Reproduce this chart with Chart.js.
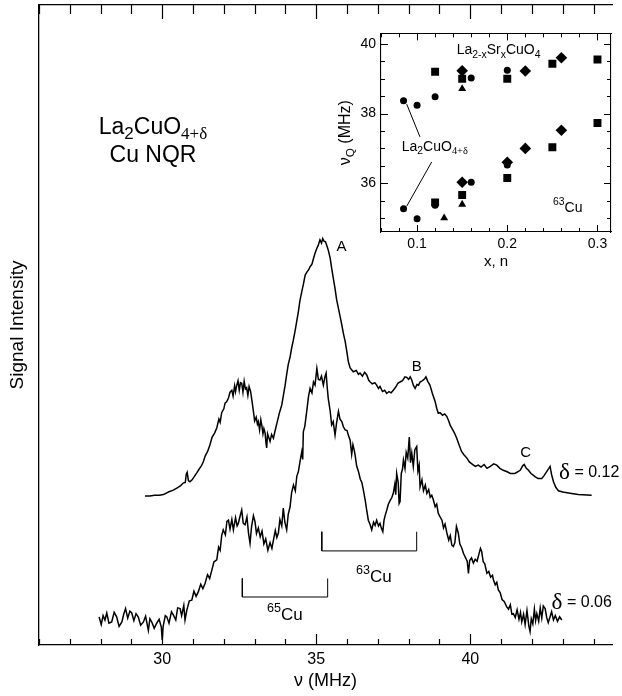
<!DOCTYPE html>
<html><head><meta charset="utf-8">
<script src="https://cdn.jsdelivr.net/npm/chart.js@4/dist/chart.umd.min.js"></script>
<style>
html,body{margin:0;padding:0;background:#fff;}
#wrap{position:relative;width:622px;height:696px;background:#fff;}
#main{position:absolute;left:0;top:0;}
#inset{position:absolute;left:330px;top:20px;}
</style></head><body>
<div id="wrap"><canvas id="main" width="622" height="696"></canvas><canvas id="inset" width="290" height="260"></canvas></div>
<script>
const SANS = '"Liberation Sans", Arial, Helvetica, sans-serif';
const SERIF = '"Liberation Serif", "DejaVu Serif", serif';

// ---------- main spectra (frequency in MHz, signal in arbitrary units) ----------
const freq012 = [29.44,29.6,29.75,29.9,30.04,30.2,30.36,30.5,30.6,30.68,30.75,30.78,30.81,30.85,30.9,30.97,31.05,31.12,31.2,31.27,31.33,31.4,31.47,31.55,31.62,31.7,31.77,31.84,31.88,31.93,32.0,32.04,32.09,32.15,32.2,32.26,32.3,32.35,32.38,32.42,32.46,32.5,32.54,32.58,32.62,32.66,32.7,32.74,32.78,32.82,32.87,32.92,32.96,33.0,33.05,33.09,33.12,33.16,33.2,33.23,33.27,33.3,33.34,33.37,33.39,33.42,33.46,33.5,33.55,33.61,33.66,33.72,33.8,33.88,33.94,33.99,34.04,34.09,34.15,34.2,34.25,34.31,34.36,34.42,34.47,34.53,34.58,34.64,34.7,34.75,34.8,34.86,34.91,34.96,35.02,35.06,35.12,35.17,35.21,35.25,35.3,35.35,35.39,35.45,35.5,35.55,35.61,35.66,35.72,35.78,35.83,35.88,35.94,36.0,36.04,36.1,36.2,36.3,36.37,36.42,36.5,36.57,36.64,36.7,36.75,36.82,36.9,36.96,37.02,37.07,37.15,37.22,37.29,37.36,37.43,37.5,37.58,37.65,37.72,37.8,37.88,37.94,38.0,38.05,38.1,38.15,38.21,38.27,38.32,38.37,38.45,38.52,38.56,38.62,38.69,38.77,38.86,38.91,38.96,39.02,39.1,39.17,39.24,39.3,39.35,39.4,39.48,39.56,39.64,39.72,39.8,39.89,39.97,40.05,40.16,40.26,40.35,40.45,40.54,40.65,40.76,40.86,40.96,41.07,41.18,41.3,41.45,41.55,41.62,41.7,41.75,41.82,41.89,41.97,42.05,42.1,42.2,42.32,42.4,42.48,42.55,42.59,42.64,42.7,42.78,42.86,43.0,43.24,43.5,43.94];
const sig012 = [23.3,23.3,23.4,23.4,23.5,23.9,24.2,24.6,24.9,25.3,25.4,26.7,27.0,25.7,25.5,25.8,26.4,26.9,27.5,28.0,28.6,29.6,30.2,31.3,32.5,33.1,33.9,35.3,34.8,36.3,36.9,37.8,38.0,38.6,39.5,39.8,38.9,40.5,39.6,40.6,41.3,39.8,41.0,40.9,39.5,41.2,40.0,40.2,39.0,40.4,39.6,37.9,36.5,35.0,35.6,34.5,34.9,33.6,35.2,34.4,33.0,33.8,33.1,31.5,30.8,33.0,32.4,31.8,32.9,32.3,33.4,34.6,36.2,37.5,39.2,40.6,42.3,43.8,45.0,46.4,47.5,49.0,50.4,52.1,53.8,55.2,56.3,57.8,58.3,58.6,59.1,59.5,60.4,61.2,62.0,62.4,63.3,62.8,63.5,63.1,63.0,62.3,61.7,60.5,58.9,57.4,55.7,54.0,52.6,51.2,50.0,48.7,47.4,45.6,44.3,43.3,42.7,42.9,42.3,42.5,42.0,42.6,42.2,41.4,41.1,40.8,41.0,40.6,40.1,40.4,39.6,39.8,39.3,39.6,39.4,39.8,40.3,40.9,41.1,41.3,41.9,41.8,41.5,41.9,41.4,40.6,40.1,40.7,40.6,41.1,41.3,41.6,41.9,41.2,40.6,39.3,38.0,37.0,36.2,36.3,35.9,36.1,35.7,35.0,34.3,33.9,33.2,32.3,31.2,30.2,29.7,29.2,28.6,28.3,27.9,28.1,27.8,28.2,27.6,27.9,28.3,28.1,27.6,27.3,27.1,26.8,26.8,27.1,27.3,28.0,28.2,27.6,27.3,26.8,26.5,26.3,26.0,26.0,26.5,27.1,27.6,27.9,26.6,25.5,24.6,24.1,23.9,23.7,23.5,23.4];

const freq006 = [27.95,28.02,28.08,28.14,28.2,28.27,28.36,28.44,28.52,28.6,28.69,28.75,28.81,28.88,28.95,29.01,29.08,29.15,29.22,29.3,29.39,29.46,29.55,29.6,29.66,29.74,29.82,29.9,29.97,30.0,30.03,30.1,30.15,30.22,30.3,30.36,30.44,30.5,30.58,30.63,30.7,30.74,30.8,30.88,30.96,31.03,31.1,31.17,31.25,31.32,31.39,31.47,31.54,31.61,31.68,31.77,31.83,31.88,31.93,31.98,32.05,32.1,32.15,32.2,32.26,32.31,32.38,32.43,32.47,32.53,32.58,32.63,32.69,32.75,32.8,32.85,32.9,32.96,33.01,33.06,33.12,33.18,33.24,33.3,33.36,33.43,33.5,33.56,33.61,33.67,33.72,33.77,33.82,33.88,33.93,33.98,34.04,34.09,34.15,34.2,34.26,34.32,34.37,34.42,34.48,34.53,34.56,34.58,34.63,34.69,34.75,34.8,34.86,34.91,34.96,35.02,35.07,35.12,35.17,35.23,35.28,35.32,35.36,35.39,35.45,35.5,35.55,35.61,35.66,35.72,35.77,35.83,35.88,35.94,36.0,36.04,36.1,36.15,36.19,36.23,36.26,36.31,36.37,36.43,36.48,36.53,36.59,36.64,36.69,36.75,36.8,36.86,36.91,36.96,37.02,37.07,37.11,37.16,37.2,37.24,37.29,37.34,37.4,37.45,37.5,37.55,37.58,37.61,37.66,37.69,37.72,37.76,37.8,37.83,37.88,37.92,37.97,38.02,38.06,38.1,38.15,38.2,38.26,38.3,38.34,38.37,38.43,38.48,38.54,38.59,38.65,38.7,38.75,38.8,38.86,38.91,38.96,39.02,39.08,39.13,39.18,39.24,39.3,39.35,39.4,39.45,39.5,39.55,39.61,39.66,39.72,39.78,39.84,39.9,39.94,39.98,40.04,40.1,40.16,40.22,40.28,40.33,40.37,40.42,40.47,40.54,40.6,40.66,40.72,40.75,40.81,40.86,40.91,40.97,41.03,41.1,41.18,41.24,41.3,41.35,41.4,41.46,41.52,41.58,41.63,41.67,41.73,41.78,41.84,41.9,41.94,41.98,42.03,42.08,42.12,42.16,42.22,42.27,42.32,42.37,42.43,42.48,42.53,42.59,42.64,42.7,42.76,42.83,42.9,42.97];
const sig006 = [4.4,3.2,4.6,3.9,5.0,3.4,3.6,5.1,4.4,2.9,3.6,4.8,5.7,4.2,5.3,5.0,3.8,4.9,4.4,3.1,3.6,4.5,2.3,4.1,3.6,2.6,3.4,4.0,2.8,0.8,2.9,4.6,4.4,3.4,5.2,4.7,3.9,5.8,5.7,4.6,6.2,3.9,5.5,6.9,7.0,8.4,7.6,8.3,9.5,8.8,9.6,11.0,10.4,11.7,13.0,13.3,15.3,14.8,17.1,18.0,17.2,19.3,19.5,18.1,19.6,18.0,19.9,18.6,19.0,20.2,21.1,19.0,18.8,20.0,17.5,15.9,18.5,20.2,19.3,17.4,18.3,16.9,17.8,15.8,16.6,14.8,16.0,15.1,16.4,17.9,16.8,17.5,19.6,18.6,21.4,19.2,18.0,20.4,21.6,23.8,25.0,24.1,26.4,27.1,28.9,30.2,29.0,33.3,34.2,36.5,38.9,40.1,39.4,41.1,40.6,43.2,41.5,41.4,42.0,40.6,41.9,42.5,40.0,38.5,36.6,34.4,34.9,32.8,34.7,36.5,35.3,34.9,34.1,33.6,33.5,32.8,32.0,29.8,31.3,30.5,29.7,28.0,27.1,25.9,25.4,24.2,22.6,21.0,19.5,18.8,18.0,19.2,18.7,19.5,18.6,19.0,18.3,17.7,19.5,20.3,21.1,22.0,22.6,23.0,23.7,25.1,23.5,26.8,25.4,22.1,22.4,26.8,27.5,28.9,27.6,30.1,29.2,32.5,28.5,30.0,27.9,30.5,31.0,27.2,28.1,24.7,25.8,24.1,25.0,23.7,24.3,23.1,23.4,22.7,21.6,22.0,20.6,20.0,19.5,18.3,18.9,17.5,16.4,17.1,15.6,15.4,16.0,18.5,17.5,15.8,15.2,14.3,13.7,13.1,11.2,13.2,13.6,12.8,13.4,13.1,14.2,15.1,14.6,13.0,12.7,11.2,11.5,10.6,10.9,10.2,9.4,9.8,8.6,8.2,7.1,6.8,6.0,5.6,6.3,4.8,4.9,4.3,5.5,4.0,5.1,3.6,4.8,3.2,5.4,3.0,2.1,4.1,3.3,5.6,3.8,4.9,3.7,5.8,4.2,6.1,5.7,4.3,3.5,4.4,5.2,3.9,4.6,3.7,4.4,3.9];

// line-position brackets (frequency ranges and heights)
const bracket63X = [35.18, 35.18, 38.26, 38.26];
const bracket63Y = [17.7, 14.7, 14.7, 17.7];
const bracket65X = [32.6, 32.6, 35.37, 35.37];
const bracket65Y = [10.4, 7.5, 7.5, 10.4];

const mainTicks = [30, 35, 40];

// ---------- inset data: nu_Q (MHz) vs x, n ----------
const circX   = [0.085, 0.10, 0.12, 0.16, 0.20];
const circUp  = [38.37, 38.24, 38.48, 39.02, 39.24];
const circLo  = [35.27, 34.98, 35.37, 36.03, 36.52];
const sqX     = [0.12, 0.15, 0.20, 0.25, 0.30];
const sqUp    = [39.20, 39.00, 39.00, 39.43, 39.55];
const sqLo    = [35.45, 35.66, 36.15, 37.03, 37.73];
const diaUpX  = [0.15, 0.22, 0.26];
const diaUp   = [39.23, 39.22, 39.60];
const diaLoX  = [0.15, 0.20, 0.22, 0.26];
const diaLo   = [36.03, 36.60, 37.00, 37.52];
const triUpX  = [0.15];
const triUp   = [38.71];
const triLoX  = [0.13, 0.15];
const triLo   = [35.00, 35.39];
const insetTicksX = [0.1, 0.2, 0.3];
const insetTicksY = [36, 38, 40];

// ---------- helpers ----------
const zip = (xs, ys) => xs.map((x, i) => ({x, y: ys[i]}));

function drawRich(ctx, x, y, parts, size, align) {
  const items = parts.map(([t, k]) => {
    let s = size, dy = 0, fam = SANS;
    if (k === 'sub') { s = size * 0.74; dy = size * 0.30; }
    if (k === 'sup') { s = size * 0.74; dy = -size * 0.38; }
    if (k === 'big') { s = size * 1.45; fam = SERIF; }
    if (t.indexOf('δ') >= 0 && k !== 'big') fam = SERIF;
    const font = s.toFixed(1) + 'px ' + fam;
    ctx.font = font;
    const w = ctx.measureText(t).width;
    return {t, font, dy, w};
  });
  const total = items.reduce((a, b) => a + b.w, 0);
  let cx = align === 'center' ? x - total / 2 : (align === 'right' ? x - total : x);
  ctx.textAlign = 'left';
  ctx.textBaseline = 'middle';
  for (const it of items) {
    ctx.font = it.font;
    ctx.fillText(it.t, cx, y + it.dy);
    cx += it.w;
  }
}

// ---------- main chart ----------
const mainDeco = {
  id: 'mainDeco',
  afterDraw(chart) {
    const {ctx, chartArea: a, scales: {x, y}} = chart;
    ctx.save();
    ctx.strokeStyle = '#000';
    ctx.lineWidth = 1.2;
    ctx.beginPath();
    for (let f = 26; f <= 44; f++) {
      const px = Math.round(x.getPixelForValue(f)) + 0.5;
      const major = f % 5 === 0;
      ctx.moveTo(px, a.bottom); ctx.lineTo(px, a.bottom - (major ? 11 : 6));
      ctx.moveTo(px, a.top); ctx.lineTo(px, a.top + (major ? 14 : 9));
    }
    ctx.stroke();
    ctx.fillStyle = '#000';
    const T = (fx, vy, parts, size, align) =>
      drawRich(ctx, x.getPixelForValue(fx), y.getPixelForValue(vy), parts, size, align);
    T(29.70, 80.8, [['La', 'n'], ['2', 'sub'], ['CuO', 'n'], ['4+δ', 'sub']], 23, 'center');
    T(29.70, 76.4, [['Cu NQR', 'n']], 23, 'center');
    T(35.82, 62.2, [['A', 'n']], 15, 'center');
    T(38.26, 43.5, [['B', 'n']], 15, 'center');
    T(41.80, 30.1, [['C', 'n']], 15, 'center');
    T(42.88, 26.9, [['δ', 'big'], [' = 0.12', 'n']], 16, 'left');
    T(42.64, 6.6, [['δ', 'big'], [' = 0.06', 'n']], 16, 'left');
    T(36.87, 10.6, [['63', 'sup'], ['Cu', 'n']], 17, 'center');
    T(33.98, 4.7, [['65', 'sup'], ['Cu', 'n']], 17, 'center');
    ctx.restore();
  }
};

const lineDS = (data, w) => ({
  data, borderColor: '#000', borderWidth: w, pointRadius: 0, fill: false,
  tension: 0, showLine: true
});

new Chart(document.getElementById('main'), {
  type: 'scatter',
  data: {
    datasets: [
      lineDS(zip(freq012, sig012), 1.5),
      lineDS(zip(freq006, sig006), 1.5),
      lineDS(zip(bracket63X, bracket63Y), 1),
      lineDS(zip(bracket65X, bracket65Y), 1)
    ]
  },
  options: {
    responsive: false, animation: false, devicePixelRatio: 1,
    layout: {padding: {left: 0, right: 10, top: 0, bottom: 0}},
    plugins: {legend: {display: false}, tooltip: {enabled: false}},
    scales: {
      x: {
        type: 'linear', position: 'bottom', min: 26, max: 44.6,
        afterFit: s => { s.height = 51; },
        grid: {display: false, drawTicks: false},
        border: {display: true, color: '#000', width: 1.3},
        ticks: {
          stepSize: 1, autoSkip: false, maxRotation: 0, padding: 5, color: '#000',
          includeBounds: false,
          font: {family: SANS, size: 16},
          callback: v => (mainTicks.includes(v) ? String(v) : '')
        },
        title: {display: true, text: 'ν (MHz)', color: '#000',
                font: {family: SANS, size: 18}, padding: {top: 0, bottom: 4}}
      },
      xTop: {
        type: 'linear', position: 'top', min: 26, max: 44.6,
        afterFit: s => { s.height = 5; },
        grid: {display: false, drawTicks: false},
        border: {display: true, color: '#000', width: 1.3},
        ticks: {display: false}
      },
      y: {
        type: 'linear', position: 'left', min: 0, max: 100,
        afterFit: s => { s.width = 39; },
        grid: {display: false, drawTicks: false},
        border: {display: true, color: '#000', width: 1.3},
        ticks: {display: false},
        title: {display: true, text: 'Signal Intensity', color: '#000',
                font: {family: SANS, size: 19}, padding: {top: 6, bottom: 0}}
      }
    }
  },
  plugins: [mainDeco]
});

// ---------- inset chart ----------
const insetDeco = {
  id: 'insetDeco',
  afterDraw(chart) {
    const {ctx, chartArea: a, scales: {x, y}} = chart;
    ctx.save();
    ctx.strokeStyle = '#000';
    ctx.lineWidth = 1;
    ctx.beginPath();
    for (let k = 3; k <= 15; k++) {
      const px = Math.round(x.getPixelForValue(k * 0.02)) + 0.5;
      const len = k % 5 === 0 ? 7 : 4;
      ctx.moveTo(px, a.bottom); ctx.lineTo(px, a.bottom - len);
      ctx.moveTo(px, a.top); ctx.lineTo(px, a.top + len);
    }
    for (let k = 70; k <= 80; k++) {
      const v = k / 2;
      const py = Math.round(y.getPixelForValue(v)) + 0.5;
      const len = v % 2 === 0 ? 7 : 4;
      ctx.moveTo(a.left, py); ctx.lineTo(a.left + len, py);
      ctx.moveTo(a.right, py); ctx.lineTo(a.right - len, py);
    }
    ctx.stroke();
    ctx.fillStyle = '#000';
    const T = (fx, vy, parts, size, align) =>
      drawRich(ctx, x.getPixelForValue(fx), y.getPixelForValue(vy), parts, size, align);
    T(0.144, 39.81, [['La', 'n'], ['2-x', 'sub'], ['Sr', 'n'], ['x', 'sub'], ['CuO', 'n'], ['4', 'sub']], 14, 'left');
    T(0.083, 37.04, [['La', 'n'], ['2', 'sub'], ['CuO', 'n'], ['4+δ', 'sub']], 14, 'left');
    T(0.2507, 35.29, [['63', 'sup'], ['Cu', 'n']], 14, 'left');
    // y axis title
    ctx.save();
    ctx.translate(16, (a.top + a.bottom) / 2);
    ctx.rotate(-Math.PI / 2);
    drawRich(ctx, 0, 0, [['ν', 'n'], ['Q', 'sub'], [' (MHz)', 'n']], 16, 'center');
    ctx.restore();
    ctx.restore();
  }
};

const pts = (xs, ys, style, r) => ({
  data: zip(xs, ys), pointStyle: style, pointRadius: r, pointHoverRadius: r,
  backgroundColor: '#000', borderColor: '#000', borderWidth: 0, showLine: false
});

new Chart(document.getElementById('inset'), {
  type: 'scatter',
  data: {
    datasets: [
      pts(circX, circUp, 'circle', 3.5),
      pts(circX, circLo, 'circle', 3.5),
      pts(sqX, sqUp, 'rect', 5.6),
      pts(sqX, sqLo, 'rect', 5.6),
      pts(diaUpX, diaUp, 'rectRot', 5.8),
      pts(diaLoX, diaLo, 'rectRot', 5.8),
      pts(triUpX, triUp, 'triangle', 4.6),
      pts(triLoX, triLo, 'triangle', 4.6),
      lineDS([{x: 0.0885, y: 38.27}, {x: 0.1032, y: 37.33}], 1),
      lineDS([{x: 0.1162, y: 36.61}, {x: 0.0885, y: 35.34}], 1)
    ]
  },
  options: {
    responsive: false, animation: false, devicePixelRatio: 1,
    layout: {padding: 0},
    plugins: {legend: {display: false}, tooltip: {enabled: false}},
    scales: {
      x: {
        type: 'linear', position: 'bottom', min: 0.06, max: 0.315,
        afterFit: s => { s.height = 48; },
        grid: {display: false, drawTicks: false},
        border: {display: true, color: '#000', width: 1.1},
        ticks: {
          stepSize: 0.02, autoSkip: false, maxRotation: 0, padding: 4, color: '#000',
          includeBounds: false,
          font: {family: SANS, size: 14},
          callback: v => {
            const t = insetTicksX.find(q => Math.abs(q - v) < 1e-6);
            return t !== undefined ? t.toFixed(1) : '';
          }
        },
        title: {display: true, text: 'x, n', color: '#000',
                font: {family: SANS, size: 15}, padding: {top: 0, bottom: 9}}
      },
      xTop: {
        type: 'linear', position: 'top', min: 0.06, max: 0.315,
        afterFit: s => { s.height = 13; },
        grid: {display: false, drawTicks: false},
        border: {display: true, color: '#000', width: 1.1},
        ticks: {display: false}
      },
      y: {
        type: 'linear', position: 'left', min: 34.6, max: 40.3,
        afterFit: s => { s.width = 51; },
        grid: {display: false, drawTicks: false},
        border: {display: true, color: '#000', width: 1.1},
        ticks: {
          stepSize: 0.5, autoSkip: false, padding: 5, color: '#000',
          includeBounds: false,
          font: {family: SANS, size: 14},
          callback: v => {
            const t = insetTicksY.find(q => Math.abs(q - v) < 1e-6);
            return t !== undefined ? String(t) : '';
          }
        }
      },
      yRight: {
        type: 'linear', position: 'right', min: 34.6, max: 40.3,
        afterFit: s => { s.width = 9; },
        grid: {display: false, drawTicks: false},
        border: {display: true, color: '#000', width: 1.1},
        ticks: {display: false}
      }
    }
  },
  plugins: [insetDeco]
});
</script>
</body></html>
